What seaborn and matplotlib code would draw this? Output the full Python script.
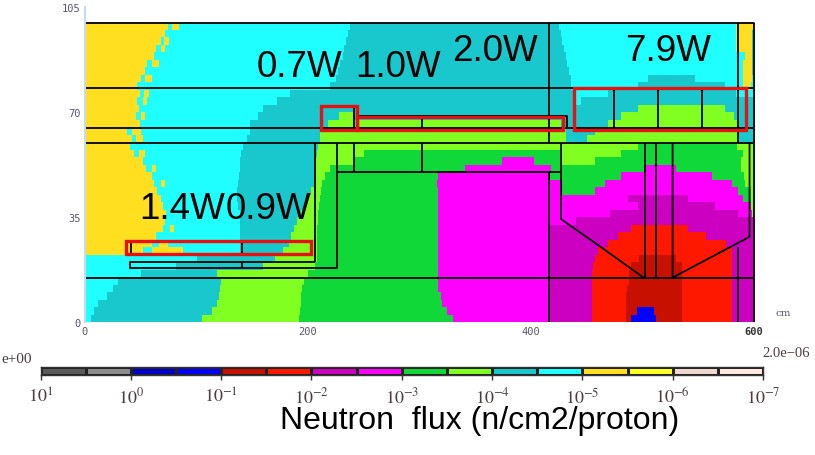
import matplotlib
matplotlib.use('Agg')
import matplotlib.pyplot as plt
from matplotlib.colors import ListedColormap
import numpy as np
import pandas as pd
import seaborn as sns

# flux band per 2.5 cm row, top to bottom: band letter + x (cm) where it ends
field_rows = [
    "Y74 C78 Y84 C238 T425 C584 Y599 T600",
    "Y72 C236 T427 C584 Y598 T600",
    "Y68 C71 Y75 C234 T428 C584 Y598 T600",
    "Y64 C68 Y72 C232 T430 C584 Y598 T600",
    "Y62 C231 T431 C592 Y598 T600",
    "Y56 C60 Y66 C229 T432 C590 Y598 T600",
    "Y54 C227 T434 C590 Y598 T600",
    "Y50 C54 Y60 C225 T436 C505 T547 C590 Y598 C600",
    "Y47 C220 T436 C496 T574 C590 Y597 C600",
    "Y49 C53 Y57 C184 T440 C469 T584 C600",
    "Y47 C52 Y56 C172 T440 C445 T590 T600",
    "Y48 C160 T496 L574 T600",
    "Y46 C50 Y54 C155 T228 L240 T481 L582 T600",
    "Y49 C148 T218 L427 T469 L586 T600",
    "Y38 C42 Y50 C148 T211 L431 T457 L586 T600",
    "Y42 C46 Y52 C145 T211 L431 T450 L586 T600",
    "Y40 C142 T209 L496 G585 L600",
    "Y44 C48 Y54 C140 T208 L250 G427 L481 G590 L600",
    "Y52 C139 T207 L240 G374 M403 G427 L457 G588 L600",
    "Y55 C60 Y64 C139 T206 L220 G341 M418 G502 M530 G588 L600",
    "Y60 C138 T205 L215 G317 M417 G481 M562 G591 L600",
    "Y62 C68 Y72 C137 T205 L213 G316 M427 G466 M580 G592 L600",
    "Y65 C136 T203 L212 G317 M427 G457 M586 G597 L600",
    "Y68 C136 T200 L211 G317 M487 P541 M590 G597 L600",
    "Y70 C137 T197 L210 G317 M496 P565 M597 L600",
    "Y73 C139 T194 L209 G317 M471 P586 M598 L600",
    "Y72 C139 T190 L209 G317 M440 P600",
    "Y70 C76 Y80 C139 T187 L208 G317 M417 P490 R541 P600",
    "Y64 C139 T185 L208 G317 M417 P478 R557 P600",
    "Y60 C66 Y74 C139 T183 L208 G317 M417 P469 R575 P600",
    "Y52 C60 Y88 C139 T178 L208 G317 M417 P460 R580 P600",
    "C100 T170 L208 G317 M417 P457 R497 D530 R580 P600",
    "C82 T160 L206 G317 M417 P456 R490 D535 R580 P600",
    "C50 T118 L200 G317 M417 P455 R488 D535 R580 P600",
    "C30 T122 L196 G317 M417 P455 R488 D535 R580 P600",
    "C25 T121 L195 G317 M417 P455 R486 D535 R580 P600",
    "C20 T120 L194 G319 M417 P455 R485 D535 R580 P600",
    "C12 T118 L194 G320 M417 P455 R485 D535 R580 P600",
    "C8 T114 L193 G325 M417 P455 R485 D495 B510 D535 R580 P600",
    "C5 T105 L192 G330 M417 P455 R485 D490 B512 D535 R580 P600",
]

band_letters = ["k", "g", "N", "B", "D", "R", "P", "M", "G", "L", "T", "C", "Y", "O", "S", "W"]
band_colors = ["#5a5a5a", "#8c8c8c", "#0000c8", "#0000ff", "#c81000", "#ff1800", "#cc00c0", "#ff00ff",
               "#10d838", "#80ff20", "#18c8cc", "#1fffff", "#ffdf20", "#ffff20", "#f0d8d0", "#ffe8e0"]
scale_labels = ["$10^{1}$", "$10^{0}$", "$10^{-1}$", "$10^{-2}$", "$10^{-3}$", "$10^{-4}$", "$10^{-5}$", "$10^{-6}$", "$10^{-7}$"]

# (x, y) paths of the geometry outline in cm
outline_paths = [
    [(0, 99.7), (600, 99.7), (600, 0)],
    [(0, 77.9), (600, 77.9)],
    [(0, 64.8), (600, 64.8)],
    [(0, 59.6), (600, 59.6)],
    [(0, 14.6), (600, 14.6)],
    [(416.5, 99.7), (416.5, 59.6)],
    [(416.5, 49.9), (416.5, 0)],
    [(585.3, 99.7), (585.3, 59.6)],
    [(585.3, 25), (585.3, 0)],
    [(244, 68.8), (432, 68.8), (432, 64.8)],
    [(302, 67.5), (302, 64.8)],
    [(302, 59.6), (302, 49.9)],
    [(241, 71.5), (241, 64.8)],
    [(241, 59.6), (241, 49.9)],
    [(206, 59.6), (206, 19.9)],
    [(226, 59.6), (226, 17.9), (40, 17.9), (40, 19.9), (206, 19.9)],
    [(140.5, 19.9), (140.5, 17.9)],
    [(140.5, 26.9), (140.5, 22.7)],
    [(41, 26.9), (41, 22.7)],
    [(226, 49.9), (427, 49.9)],
    [(427, 59.6), (427, 34.3), (463, 24.9), (501, 14.8)],
    [(502, 59.6), (502, 14.8)],
    [(512, 59.6), (512, 14.8)],
    [(527, 59.6), (527, 14.8), (596, 28.4), (596, 59.6)],
    [(474.8, 77.9), (474.8, 64.8)],
    [(514, 77.9), (514, 64.8)],
    [(553, 77.9), (553, 64.8)],
]

# x0, x1, y0, y1 of the highlighted regions in cm
red_boxes = [(212, 244, 64.1, 71.9), (244, 429, 64.1, 68.3), (439, 593, 64.1, 77.9), (37, 203, 22.7, 26.9)]

# label, left pixel, baseline pixel
power_labels = [("0.7W", 257, 77), ("1.0W", 355, 77), ("2.0W", 452, 61),
                ("7.9W", 625, 61), ("1.4W", 139, 219), ("0.9W", 226, 219)]

W, H = 815, 456


def px_axes(fig, x0, x1, y_top, y_bottom):
    return fig.add_axes([x0 / W, 1 - y_bottom / H, (x1 - x0) / W, (y_bottom - y_top) / H])


def field_frame():
    grid = np.zeros((len(field_rows), 600), dtype=int)
    for i, row in enumerate(field_rows):
        start = 0
        for token in row.split():
            end = int(token[1:])
            grid[i, start:end] = band_letters.index(token[0])
            start = end
    return pd.DataFrame(grid)


def main():
    sns.set_theme(style="white")
    plt.rcParams['font.family'] = ['Liberation Sans', 'DejaVu Sans']
    plt.rcParams['mathtext.fontset'] = 'stix'
    fig = plt.figure(figsize=(W / 100, H / 100), dpi=100, facecolor="white")
    cmap = ListedColormap(band_colors)

    # flux map
    ax_map = px_axes(fig, 85, 754, 23.5, 323)
    sns.heatmap(field_frame(), ax=ax_map, cmap=cmap, vmin=-0.5, vmax=15.5, cbar=False,
                xticklabels=False, yticklabels=False)
    ax_map.set_xlabel("")
    ax_map.set_ylabel("")

    # geometry on top, in cm
    ax = px_axes(fig, 85, 754, 8, 323)
    ax.patch.set_alpha(0)
    ax.set_xlim(0, 600)
    ax.set_ylim(0, 105)
    for path in outline_paths:
        xs, ys = zip(*path)
        ax.plot(xs, ys, color="black", lw=1.3, solid_capstyle="butt", clip_on=False)
    for x0, x1, y0, y1 in red_boxes:
        ax.plot([x0, x1, x1, x0, x0], [y0, y0, y1, y1, y0], color="#e81010", lw=2.4, solid_joinstyle="miter")
    for side in ["top", "right", "bottom"]:
        ax.spines[side].set_visible(False)
    ax.spines["left"].set_color("#c4dcec")
    ax.spines["left"].set_linewidth(1.5)
    ax.set_xticks([0, 200, 400, 600])
    ax.set_yticks([0, 35, 70, 105])
    ax.tick_params(length=0, pad=3, labelsize=7.5, labelcolor="#55556a")
    for lab in ax.get_xticklabels() + ax.get_yticklabels():
        lab.set_family("DejaVu Sans Mono")
    ax.get_xticklabels()[-1].set_fontweight("bold")
    ax.get_xticklabels()[-1].set_color("#333333")
    fig.text(775 / W, 1 - 314 / H, "cm", family="DejaVu Serif", fontsize=7.5, color="#55556a", va="center")

    for label, x, y in power_labels:
        fig.text(x / W, 1 - y / H, label, fontsize=26.5, color="black", va="baseline")

    # colour scale
    ax_bar = px_axes(fig, 40.5, 763, 367.5, 376)
    sns.heatmap(pd.DataFrame([list(range(16))]), ax=ax_bar, cmap=cmap, vmin=-0.5, vmax=15.5, cbar=False,
                linewidths=0.8, linecolor="#222222", xticklabels=False, yticklabels=False)
    for spine in ax_bar.spines.values():
        spine.set_visible(True)
        spine.set_color("#333333")
        spine.set_linewidth(1)
    ax_bar.set_xticks(np.arange(0, 17, 2))
    ax_bar.set_xticklabels(scale_labels)
    ax_bar.set_yticks([])
    ax_bar.set_xlabel("")
    ax_bar.set_ylabel("")
    ax_bar.tick_params(axis="x", bottom=True, length=3.5, width=1, color="#333333", pad=5, labelsize=13, labelcolor="#4a3c3c")

    fig.text(1 / W, 1 - 360 / H, "e+00", family="Liberation Serif", fontsize=11, color="#4a3c3c", va="center")
    fig.text(762 / W, 1 - 354 / H, "2.0e\u221206", family="Liberation Serif", fontsize=10.5, color="#4a3c3c", va="center")
    fig.text(280 / W, 1 - 429 / H, "Neutron  flux (n/cm2/proton)", fontsize=23, color="black", va="baseline")

    fig.savefig("out.png", dpi=100)


if __name__ == "__main__":
    main()
